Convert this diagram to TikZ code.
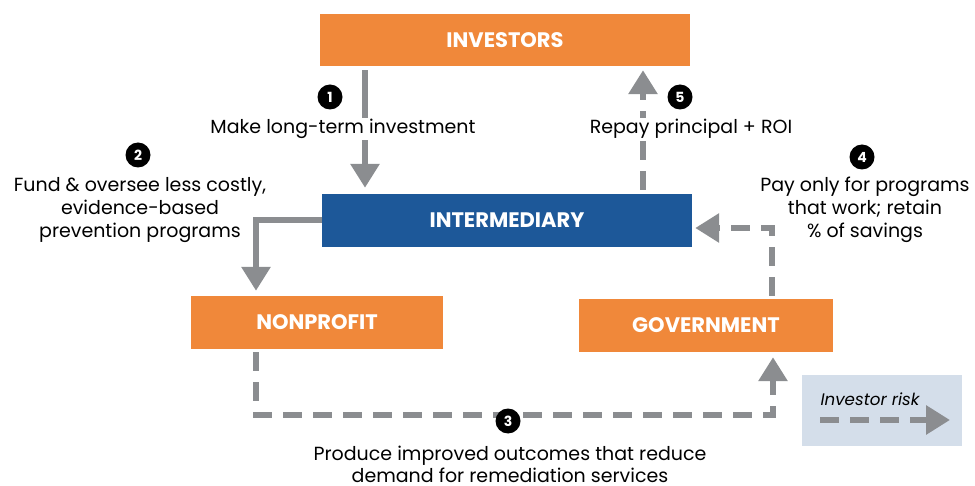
\documentclass[tikz,border=0pt]{standalone}
\usepackage{fontspec}
\setmainfont{Poppins}
\usetikzlibrary{arrows.meta}
\definecolor{orng}{HTML}{F0883A}
\definecolor{blu}{HTML}{1D5899}
\definecolor{gry}{HTML}{8B8D90}
\definecolor{lgd}{HTML}{D4DEEA}
\begin{document}
\begin{tikzpicture}[x=1pt,y=-1pt,
  box/.style={text=white,font=\bfseries\fontsize{21}{23}\selectfont,inner sep=0pt},
  obox/.style={box,fill=orng},
  bbox/.style={box,fill=blu},
  arr/.style={draw=gry,line width=6pt,-{Triangle[width=28pt,length=24pt]}},
  darr/.style={arr,dash pattern=on 19pt off 11pt},
  num/.style={circle,fill=black,text=white,inner sep=0pt,minimum size=25pt,font=\bfseries\fontsize{14}{14}\selectfont},
  lbl/.style={font=\fontsize{19}{23}\selectfont,align=center,inner sep=1pt}
]
\useasboundingbox (0,0) rectangle (975,486);
\node[obox,minimum width=370pt,minimum height=52pt] (inv) at (505,40) {INVESTORS};
\node[bbox,minimum width=370pt,minimum height=53pt] (int) at (507,220.5) {INTERMEDIARY};
\node[obox,minimum width=252pt,minimum height=53pt] (np) at (317,322.5) {NONPROFIT};
\node[obox,minimum width=254pt,minimum height=53pt] (gov) at (706,325.5) {GOVERNMENT};
\node[fill=lgd,minimum width=160pt,minimum height=71pt,inner sep=0pt] (leg) at (882,410.5) {};

\coordinate (x1) at (365,0);
\coordinate (x2) at (256,0);
\coordinate (c3l) at (256,415);
\coordinate (c3r) at (773,415);
\coordinate (c4) at (772,228);
\coordinate (x5) at (643,0);

% 1
\draw[arr,shorten <=4pt,shorten >=6pt] (x1 |- inv.south) -- (x1 |- int.north);
\node[lbl,fill=white] (t1) at (343,129) {Make long-term investment};
\node[num] (n1) at (330,97) {1};
% 2
\draw[arr,shorten >=5pt] (int.west) -| (x2 |- np.north);
\node[num] (n2) at (138,155) {2};
\node[lbl] (t2) at (140,210) {Fund \& oversee less costly,\\evidence-based\\prevention programs};
% 3
\draw[darr,shorten <=3pt,shorten >=5pt] (c3l |- np.south) -- (c3l) -- (c3r) -- (c3r |- gov.south);
\node[num] (n3) at (508,421) {3};
\node[lbl,font=\fontsize{19}{22}\selectfont,inner sep=0pt] (t3) at (510,464) {Produce improved outcomes that reduce\\demand for remediation services};
% 4
\draw[darr,shorten <=3pt,shorten >=3pt] (c4 |- gov.north) -- (c4) -- (c4 -| int.east);
\node[num] (n4) at (862,157) {4};
\node[lbl] (t4) at (865,210) {Pay only for programs\\that work; retain\\\% of savings};
% 5
\draw[darr,shorten <=4pt,shorten >=4pt] (x5 |- int.north) -- (x5 |- inv.south);
\node[lbl,fill=white] (t5) at (691,129) {Repay principal + ROI};
\node[num] (n5) at (680,97) {5};
% legend
\node[lbl,font=\itshape\fontsize{16.7}{18}\selectfont] (lt) at (870,399) {Investor risk};
\coordinate (la) at (820,420);
\coordinate (lb) at (950,420);
\draw[darr] (la) -- (lb);
\end{tikzpicture}
\end{document}
